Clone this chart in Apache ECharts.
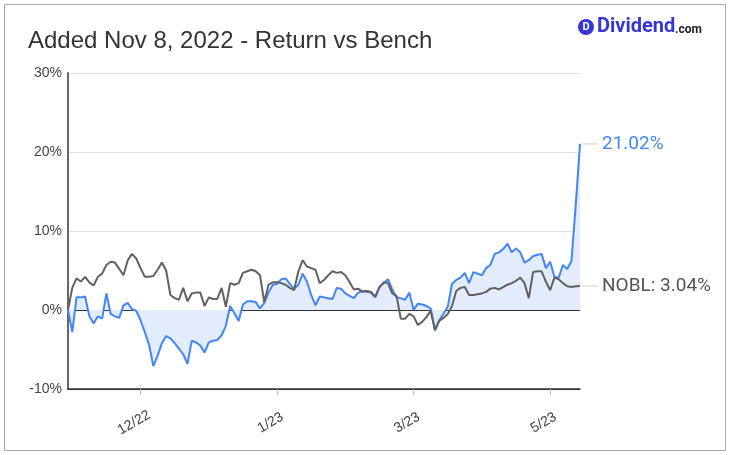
<!DOCTYPE html>
<html>
<head>
<meta charset="utf-8">
<script src="https://cdn.jsdelivr.net/npm/echarts@6/dist/echarts.min.js"></script>
<style>
html,body{margin:0;padding:0;background:#fff;}
#chart{width:730px;height:455px;}
</style>
</head>
<body>
<div id="chart"></div>
<script>
const titleText = 'Added Nov 8, 2022 - Return vs Bench';
const benchName = 'NOBL';
const tickIndex = [17, 49, 81, 113];
const tickLabels = ['12/22', '1/23', '3/23', '5/23'];
const yMin = -10, yMax = 30, yStep = 10;

const fundReturn = [
  0, -2.8, 1.6, 1.6, 1.7, -0.8, -1.7, -0.8, -1.1, 2.1,
  -0.5, -0.8, -1.0, 0.6, 0.9, 0.1, -0.1, -1.3, -2.8, -4.4,
  -7.1, -5.8, -4.2, -3.3, -3.6, -4.2, -4.9, -5.6, -6.8, -3.9,
  -4.1, -4.5, -5.4, -4.1, -3.9, -3.8, -3.2, -2.0, 0.5, -0.4,
  -1.4, 0.7, 1.1, 1.1, 1.0, 0.2, 0.9, 2.2, 3.2, 3.3,
  3.9, 4.0, 3.3, 2.7, 3.2, 4.6, 3.6, 1.9, 0.6, 1.7,
  1.6, 1.5, 1.4, 2.8, 2.7, 2.1, 1.8, 1.5, 2.2, 2.4,
  2.3, 2.2, 1.6, 2.9, 3.4, 3.9, 2.6, 1.6, 1.5, 1.3,
  2.2, 0.0, 0.8, 0.7, 0.5, 0.2, -2.6, -1.3, -0.5, 0.4,
  3.3, 3.8, 4.1, 4.7, 3.4, 4.8, 4.6, 4.4, 5.3, 5.7,
  7.1, 7.3, 7.7, 8.4, 7.3, 7.8, 7.3, 6.0, 6.3, 6.8,
  7.0, 7.1, 5.3, 6.1, 4.2, 4.1, 5.7, 5.2, 6.2, 13.3,
  21.02
];

const benchReturn = [
  0, 2.8, 4.0, 3.6, 4.2, 3.5, 3.1, 4.2, 4.6, 5.7,
  6.1, 6.0, 5.2, 4.4, 6.3, 7.1, 6.5, 5.3, 4.2, 4.2,
  4.3, 5.1, 6.0, 5.0, 1.9, 1.5, 1.3, 2.8, 1.1, 2.1,
  2.2, 2.2, 0.5, 1.6, 1.4, 1.4, 2.8, 0.4, 3.4, 3.2,
  3.4, 4.7, 4.9, 5.1, 4.9, 4.4, 1.0, 3.2, 3.5, 3.5,
  3.4, 3.2, 2.8, 2.5, 4.9, 6.3, 5.5, 5.3, 5.1, 3.4,
  3.8, 4.4, 4.9, 4.7, 4.8, 4.4, 3.5, 2.6, 2.7, 2.3,
  2.4, 2.3, 1.7, 2.9, 3.5, 3.4, 2.1, 1.8, -1.1, -1.1,
  -0.5, -0.8, -1.9, -1.5, -0.9, -0.1, -2.5, -1.4, -1.0, -0.5,
  0.5, 2.4, 2.8, 2.9, 1.9, 1.9, 2.0, 2.1, 2.3, 2.7,
  2.8, 2.6, 2.9, 3.2, 3.4, 3.7, 4.1, 3.4, 1.5, 4.8,
  4.9, 4.9, 3.6, 2.5, 4.1, 3.9, 3.4, 3.0, 2.9, 3.0,
  3.04
];

const categories = fundReturn.map((_, i) => i);
const FONT = '"Liberation Sans", Arial, sans-serif';
const FONT2 = 'Roboto, Arial, sans-serif';

const chart = echarts.init(document.getElementById('chart'), null, {renderer: 'canvas'});
chart.setOption({
  animation: false,
  backgroundColor: '#fff',
  title: {
    text: titleText,
    left: 23, top: 24,
    textStyle: {fontFamily: FONT, fontSize: 24, fontWeight: 'normal', color: '#333'}
  },
  graphic: [
    {type: 'rect', shape: {x: 4.5, y: 4.5, width: 721, height: 446}, style: {fill: 'none', stroke: '#aaa', lineWidth: 1}, silent: true},
    {type: 'circle', shape: {cx: 586, cy: 27, r: 8}, style: {fill: '#3437d6'}, silent: true},
    {type: 'text', x: 586, y: 27, style: {text: 'D', fill: '#fff', font: 'bold 11px ' + FONT2, textAlign: 'center', textVerticalAlign: 'middle'}, silent: true},
    {type: 'text', x: 597, y: 27, style: {text: 'Dividend', fill: '#3437d6', font: 'bold 20px ' + FONT2, textAlign: 'left', textVerticalAlign: 'middle'}, silent: true},
    {type: 'text', x: 675, y: 30, style: {text: '.com', fill: '#222', font: 'bold 12px ' + FONT2, textAlign: 'left', textVerticalAlign: 'middle'}, silent: true}
  ],
  grid: {left: 68, right: 150, top: 73, bottom: 66, containLabel: false},
  xAxis: {
    type: 'category',
    data: categories,
    boundaryGap: false,
    axisLine: {onZero: false, lineStyle: {color: '#333', width: 1.5}},
    axisTick: {show: true, interval: (idx) => tickIndex.includes(idx), length: 6, lineStyle: {color: '#bbb'}},
    axisLabel: {
      interval: (idx) => tickIndex.includes(idx),
      formatter: (v, idx) => { const k = tickIndex.indexOf(Number(v)); return k >= 0 ? tickLabels[k] : ''; },
      rotate: 30, margin: 30, align: 'center', verticalAlign: 'middle', padding: [0, 15, 0, 0],
      fontFamily: FONT, fontSize: 14, color: '#444'
    },
    splitLine: {show: false}
  },
  yAxis: {
    type: 'value',
    min: yMin, max: yMax, interval: yStep,
    axisLine: {show: true, lineStyle: {color: '#666', width: 2}},
    axisTick: {show: false},
    axisLabel: {formatter: '{value}%', fontFamily: FONT, fontSize: 14, color: '#444', margin: 6},
    splitLine: {show: true, lineStyle: {color: ['#333', '#333', '#e2e2e2', '#e2e2e2', '#e2e2e2'], width: 1}}
  },
  series: [
    {
      type: 'line',
      data: fundReturn,
      showSymbol: false,
      lineStyle: {color: '#4285f4', width: 2},
      itemStyle: {color: '#4285f4'},
      areaStyle: {color: '#e2ecfc', opacity: 1},
      endLabel: {
        show: true, distance: 2,
        formatter: (p) => '{l|}{t|' + p.value.toFixed(2) + '%}',
        rich: {
          l: {width: 16, height: 1, backgroundColor: '#ccc', verticalAlign: 'middle'},
          t: {color: '#4285f4', fontSize: 19, fontFamily: FONT2, padding: [0, 0, 0, 4]}
        }
      }
    },
    {
      type: 'line',
      name: benchName,
      data: benchReturn,
      showSymbol: false,
      lineStyle: {color: '#616161', width: 2},
      itemStyle: {color: '#616161'},
      endLabel: {
        show: true, distance: 2,
        formatter: (p) => '{l|}{t|' + benchName + ': ' + p.value.toFixed(2) + '%}',
        rich: {
          l: {width: 16, height: 1, backgroundColor: '#ccc', verticalAlign: 'middle'},
          t: {color: '#555', fontSize: 19, fontFamily: FONT2, padding: [0, 0, 0, 4]}
        }
      }
    }
  ]
});
</script>
</body>
</html>
